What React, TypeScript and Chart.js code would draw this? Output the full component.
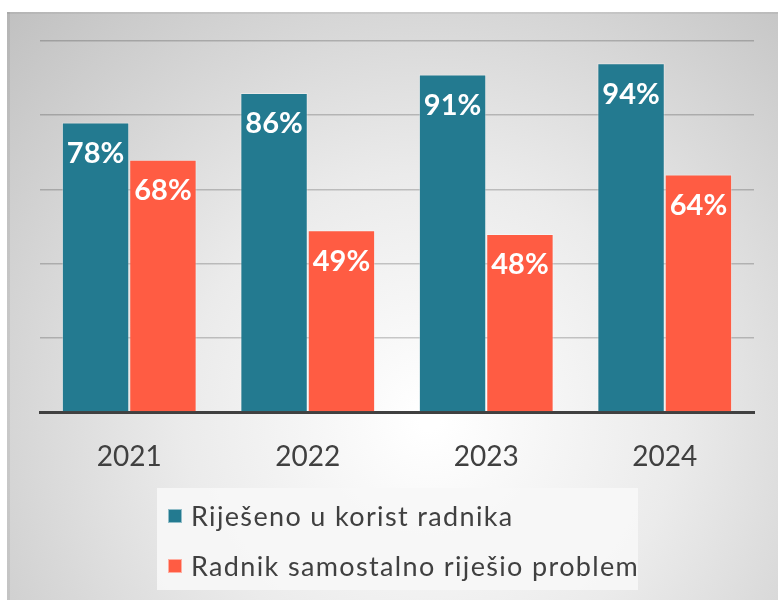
import React, { useEffect, useRef } from "react";
import { Chart, registerables } from "chart.js";

Chart.register(...registerables);

const categories = ["2021", "2022", "2023", "2024"];
const seriesNames = ["Riješeno u korist radnika", "Radnik samostalno riješio problem"];
const solvedForWorker = [78, 86, 91, 94];
const solvedBySelf = [68, 49, 48, 64];
const seriesColors = ["#237A90", "#FF5C43"];
const yMax = 100;
const yStep = 20;

const FONT = "Lato, 'Open Sans', sans-serif";

const backgroundPlugin = {
  id: "bgPanel",
  beforeDraw(chart: any) {
    const { ctx, width, height } = chart;
    ctx.save();
    ctx.fillStyle = "#ffffff";
    ctx.fillRect(0, 0, width, height);
    const g = ctx.createRadialGradient(430, 420, 10, 430, 420, 600);
    g.addColorStop(0, "#ffffff");
    g.addColorStop(0.4, "#ebebeb");
    g.addColorStop(1, "#bfbfbf");
    ctx.fillStyle = g;
    ctx.fillRect(7, 12, width - 7, height - 12);
    ctx.fillStyle = "rgba(0,0,0,0.06)";
    ctx.fillRect(7, 12, 3, height - 12);
    ctx.fillRect(7, 12, width - 7, 2);
    ctx.restore();
  },
};

const labelPlugin = {
  id: "barLabels",
  afterDatasetsDraw(chart: any) {
    const { ctx } = chart;
    ctx.save();
    ctx.fillStyle = "#ffffff";
    ctx.font = `bold 29px ${FONT}`;
    ctx.textAlign = "center";
    ctx.textBaseline = "middle";
    chart.data.datasets.forEach((ds: any, i: number) => {
      const meta = chart.getDatasetMeta(i);
      meta.data.forEach((bar: any, j: number) => {
        ctx.fillText(`${ds.data[j]}%`, bar.x, bar.y + 31);
      });
    });
    ctx.restore();
  },
};

const legendPlugin = {
  id: "customLegend",
  afterDraw(chart: any) {
    const { ctx } = chart;
    ctx.save();
    ctx.fillStyle = "rgba(247,247,247,0.9)";
    ctx.fillRect(157, 488, 481, 102);
    ctx.font = `27px ${FONT}`;
    (ctx as any).letterSpacing = "1.35px";
    ctx.textBaseline = "middle";
    ctx.textAlign = "left";
    chart.data.datasets.forEach((ds: any, i: number) => {
      const cy = 516 + i * 50;
      ctx.fillStyle = ds.backgroundColor;
      ctx.fillRect(168, cy - 7, 14, 14);
      ctx.strokeStyle = "rgba(255,255,255,0.5)";
      ctx.lineWidth = 1;
      ctx.strokeRect(168.5, cy - 6.5, 13, 13);
      ctx.fillStyle = "#404040";
      ctx.fillText(ds.label, 191, cy + 1);
    });
    ctx.restore();
  },
};

export default function App() {
  const ref = useRef<HTMLCanvasElement>(null);
  useEffect(() => {
    document.body.style.margin = "0";
    const chart = new Chart(ref.current!, {
      type: "bar",
      data: {
        labels: categories,
        datasets: [
          {
            label: seriesNames[0],
            data: solvedForWorker,
            backgroundColor: seriesColors[0],
            borderColor: "rgba(255,255,255,0.35)",
            borderWidth: 1,
          },
          {
            label: seriesNames[1],
            data: solvedBySelf,
            backgroundColor: seriesColors[1],
            borderColor: "rgba(255,255,255,0.35)",
            borderWidth: 1,
          },
        ],
      },
      options: {
        responsive: false,
        devicePixelRatio: 1,
        animation: false,
        datasets: { bar: { categoryPercentage: 0.755, barPercentage: 1 } },
        layout: { padding: { top: 41, left: 40, right: 24, bottom: 0 } },
        plugins: { legend: { display: false }, tooltip: { enabled: false } },
        scales: {
          x: {
            z: 2,
            grid: { display: false, drawTicks: false },
            border: { display: true, color: "#404040", width: 3 },
            ticks: { font: { family: FONT, size: 28 }, color: "#404040", padding: 28 },
            afterFit(scale: any) {
              scale.height = 188;
            },
          },
          y: {
            z: 1,
            min: 0,
            max: yMax,
            ticks: { display: false, stepSize: yStep },
            grid: { color: "rgba(0,0,0,0.2)", lineWidth: 1.5, drawTicks: false },
            border: { display: false },
            afterFit(scale: any) {
              scale.width = 0;
            },
          },
        },
      },
      plugins: [backgroundPlugin, labelPlugin, legendPlugin],
    } as any);
    return () => chart.destroy();
  }, []);
  return (
    <div style={{ position: "absolute", left: 0, top: 0, width: 778, height: 600 }}>
      <canvas ref={ref} width={778} height={600} />
    </div>
  );
}
